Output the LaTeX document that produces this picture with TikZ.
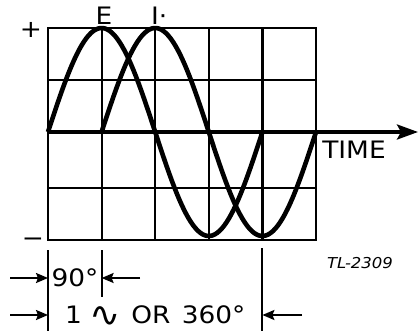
\documentclass[tikz,border=0pt]{standalone}
\usepackage{fontspec}
\setmainfont{DejaVu Sans}[FakeStretch=1.1]
\usetikzlibrary{arrows.meta,calc}

\begin{document}
\begin{tikzpicture}[
    x=1pt, y=-1pt,
    grid_line/.style = {
        line width=2.2pt,
        draw=black
    },
    wave/.style = {
        line width=4.6pt,
        draw=black,
        line join=round
    },
    axis_arrow/.style = {
        -{Stealth[length=21pt,width=15pt,inset=4pt]},
        line width=3.4pt
    },
    dim_arrow/.style = {
        -{Stealth[length=12pt,width=10pt,inset=2pt]},
        line width=2pt
    },
    ext_line/.style = {
        line width=2pt
    },
    lettering/.style = {
        inner sep=0pt,
        font=\fontsize{24}{24}\selectfont
    },
    tag/.style = {
        inner sep=0pt,
        font=\fontsize{15}{15}\selectfont\itshape
    }
]
    \useasboundingbox (0,0) rectangle (418,332);

    % Grid (5 x 4 squares, 90 degrees per square)
    \draw [grid_line] (48,28) rectangle (316,240);
    \foreach \gx in {101.6,155.2,208.8,262.4}
        \draw [grid_line] (\gx,28) -- (\gx,240);
    \foreach \gy in {80,188}
        \draw [grid_line] (48,\gy) -- (316,\gy);

    % Time axis
    \coordinate (origin) at (48,132);
    \coordinate (time_end) at (418,132);
    \draw [axis_arrow] (origin) -- (time_end);

    % Voltage and current waves
    \draw [wave] plot [domain=0:360, samples=91] ({48+\x/90*53.6}, {132-104*sin(\x)});
    \draw [wave] plot [domain=0:360, samples=91] ({101.6+\x/90*53.6}, {132-104*sin(\x)});

    % Labels
    \node [lettering] (plus) at (31,30) {+};
    \node [lettering] (minus) at (33,242) {−};
    \node [lettering] (e_lbl) at (104,16) {E};
    \node [lettering, anchor=west] (i_lbl) at (151,16) {I·};
    \node [lettering] (time_lbl) at (354,150) {TIME};
    \node [tag] (fig_tag) at (360,263) {TL-2309};

    % Extension lines
    \coordinate (ext_a_top) at (48,250);
    \coordinate (ext_a_bot) at (48,331);
    \coordinate (ext_b_top) at (101.6,250);
    \coordinate (ext_b_bot) at (101.6,297);
    \coordinate (ext_c_top) at (262.4,248);
    \coordinate (ext_c_bot) at (262.4,331);
    \draw [ext_line] (ext_a_top) -- (ext_a_bot);
    \draw [ext_line] (ext_b_top) -- (ext_b_bot);
    \draw [ext_line] (ext_c_top) -- (ext_c_bot);

    % 90 degree dimension
    \coordinate (ninety_from) at (10,278);
    \coordinate (ninety_a) at (48,278);
    \coordinate (ninety_to) at (140,278);
    \coordinate (ninety_b) at (101.6,278);
    \node [lettering] (ninety) at (75,278) {90°};
    \draw [dim_arrow] (ninety_from) -- (ninety_a);
    \draw [dim_arrow] (ninety_to) -- (ninety_b);

    % Full cycle dimension
    \coordinate (cycle_from) at (10,315);
    \coordinate (cycle_a) at (48,315);
    \coordinate (cycle_to) at (302,315);
    \coordinate (cycle_b) at (262.4,315);
    \node [lettering, anchor=west] (cycle) at (65,315)
        {1\hspace{8pt}\smash{\raisebox{-3pt}{\fontsize{34}{34}\selectfont ∿}}\hspace{10pt}OR\hspace{3pt} 360°};
    \draw [dim_arrow] (cycle_from) -- (cycle_a);
    \draw [dim_arrow] (cycle_to) -- (cycle_b);

\end{tikzpicture}
\end{document}
